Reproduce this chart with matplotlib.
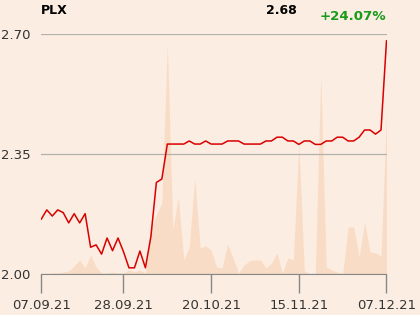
import matplotlib
matplotlib.use("Agg")
import matplotlib.pyplot as plt

# PLX closing prices, 07.09.21 - 07.12.21 (trading days)
price = [2.16, 2.187, 2.169, 2.187, 2.179, 2.149, 2.176, 2.149, 2.176, 2.078,
         2.085, 2.058, 2.105, 2.068, 2.105, 2.065, 2.018, 2.018, 2.067, 2.018,
         2.109, 2.267, 2.277, 2.379, 2.379, 2.379, 2.379, 2.388, 2.379, 2.379,
         2.388, 2.379, 2.379, 2.379, 2.388, 2.388, 2.388, 2.379, 2.379, 2.379,
         2.379, 2.388, 2.388, 2.399, 2.399, 2.388, 2.388, 2.378, 2.388, 2.388,
         2.378, 2.378, 2.388, 2.388, 2.399, 2.399, 2.388, 2.388, 2.399, 2.42,
         2.42, 2.408, 2.42, 2.68]

# traded volume (relative units)
volume = [0, 0, 1, 1, 2, 3, 8, 14, 6, 19,
          7, 1, 1, 2, 1, 1, 4, 2, 4, 1,
          44, 59, 71, 230, 44, 77, 14, 27, 96, 26,
          28, 24, 7, 6, 30, 16, 1, 9, 13, 14,
          14, 6, 11, 21, 1, 16, 14, 131, 3, 0,
          0, 199, 7, 4, 2, 0, 47, 47, 17, 52,
          22, 21, 18, 161]

tick_idx = [0, 15, 31, 47, 63]
tick_labels = ["07.09.21", "28.09.21", "20.10.21", "15.11.21", "07.12.21"]
y_ticks = [2.00, 2.35, 2.70]

bg = "#fbede1"
W, H = 420, 315

fig = plt.figure(figsize=(4.2, 3.15), dpi=100, facecolor=bg)
rect = [41.3 / W, 1 - 274 / H, (386.5 - 41.3) / W, 240 / H]

vol = fig.add_axes(rect)
vol.set_facecolor(bg)
x = list(range(len(volume)))
vol.fill_between(x, volume, 0, color="#f9dcc5", lw=0)
vol.set_ylim(0, 240)
vol.set_xlim(0, len(price) - 1)
vol.axis("off")

ax = fig.add_axes(rect)
ax.patch.set_visible(False)
ax.plot(x, price, color="#d90000", lw=1.1, zorder=3)
ax.set_xlim(0, len(price) - 1)
ax.set_ylim(2.0, 2.7)
ax.set_yticks(y_ticks)
ax.set_yticklabels([f"{v:.2f}" for v in y_ticks])
ax.yaxis.grid(True, color="#b4b0ac", lw=0.9)
ax.tick_params(axis="y", length=0, pad=8, labelsize=9.5, labelcolor="#333333")
ax.set_xticks(tick_idx)
ax.set_xticklabels(tick_labels)
ax.tick_params(axis="x", length=14, width=1, color="#888888", pad=4,
               labelsize=9.5, labelcolor="#333333")
for s in ["top", "right", "left"]:
    ax.spines[s].set_visible(False)
ax.spines["bottom"].set_color("#888888")

fig.text(41 / W, 1 - 11 / H, "PLX", fontsize=9, fontweight="bold", va="center")
fig.text(297 / W, 1 - 10 / H, "2.68", fontsize=9, fontweight="bold",
         va="center", ha="right")
fig.text(386 / W, 1 - 16 / H, "+24.07%", fontsize=9.6, fontweight="bold",
         va="center", ha="right", color="#1a9a1a")

fig.savefig("out.png", dpi=100, facecolor=bg)
